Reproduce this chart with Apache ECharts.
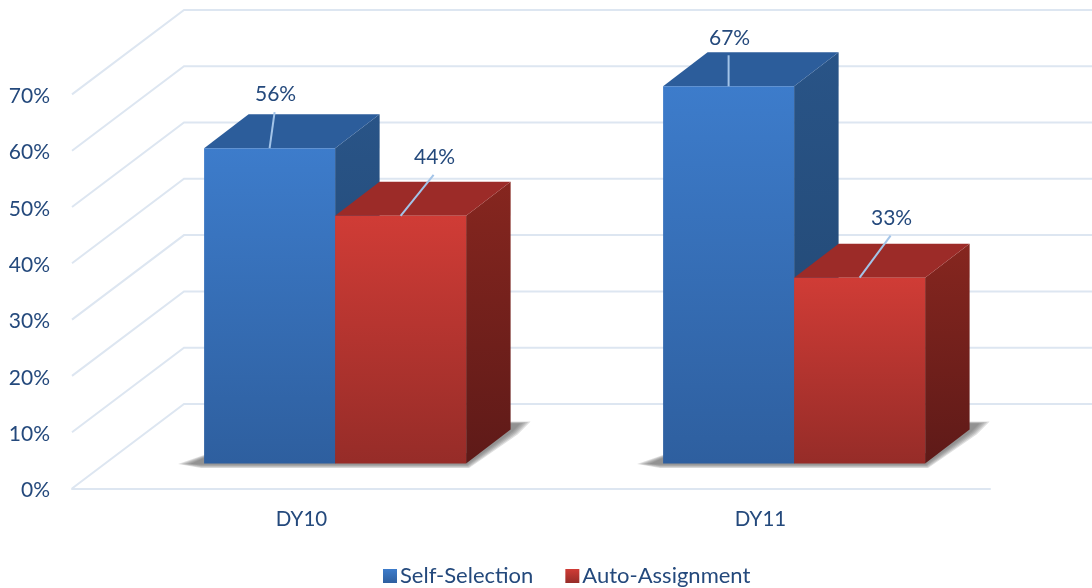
<!DOCTYPE html>
<html>
<head>
<meta charset="utf-8">
<style>html,body{margin:0;padding:0;background:#fff}#c{width:1092px;height:588px}</style>
<script src="https://cdn.jsdelivr.net/npm/echarts@6/dist/echarts.min.js"></script>
</head>
<body>
<div id="c"></div>
<script>
const categories = ['DY10', 'DY11'];
const selfSelection = [56, 67];
const autoAssignment = [44, 33];
const gridTicks = [0, 10, 20, 30, 40, 50, 60, 70];

// Perspective layout (separate from the data)
const WALL_DX = 112, WALL_DY = -84.5;      // wall depth offset
const BAR_SHIFT_X = 33.6, BAR_SHIFT_Y = -25; // bars stand part-way back on the floor
const DEPTH_X = 44.5, DEPTH_Y = -34;        // bar's own depth
const BAR_FRACTION = 131 / 459;             // bar width as share of a category band
const FONT = 'Lato, Carlito, Calibri, sans-serif';
const TEXT = '#24497c', GRID = '#dde6f1', LEADER = '#a3c4e8';
const lg = (a, b) => new echarts.graphic.LinearGradient(0, 0, 0, 1, [{offset: 0, color: a}, {offset: 1, color: b}]);

const BLUE = {front: ['#3d7ccb', '#2e5f9f'], top: '#2c5d9b', side: ['#295487', '#214670']};
const RED = {front: ['#d03c36', '#962c28'], top: '#9c2b28', side: ['#86261f', '#5e1a18']};
// leader ends, relative to the centre of each bar's front-top edge
const blueLeaders = [[5, -36], [0, -31]];
const redLeaders = [[33, -41], [31, -42]];
const shadowLayers = [1, 0.75, 0.5, 0.25, 0];       // soft floor shadow, outermost first

function gridItem(params, api) {
  const p = api.coord([0, api.value(0)]);
  const x0 = params.coordSys.x, x1 = params.coordSys.x + params.coordSys.width;
  const pts = [[x0, p[1]], [x0 + WALL_DX, p[1] + WALL_DY], [x1 + WALL_DX + 2, p[1] + WALL_DY]];
  return {type: 'polyline', shape: {points: pts}, style: {fill: null, stroke: GRID, lineWidth: 2}, silent: true};
}

function barRenderer(side, palette, leaders) {
  return function (params, api) {
    const idx = api.value(0), val = api.value(1);
    const w = api.size([1, 0])[0] * BAR_FRACTION;
    const c = api.coord([idx, val]), b = api.coord([idx, 0]);
    const cx = c[0] + BAR_SHIFT_X;
    const xl = side === 0 ? cx - w : cx, xr = xl + w;
    const yt = c[1] + BAR_SHIFT_Y, yb = b[1] + BAR_SHIFT_Y;
    const xm = xl + w / 2;
    const L = leaders[idx];
    return {
      type: 'group',
      children: [
        {type: 'polygon', shape: {points: [[xr, yt], [xr + DEPTH_X, yt + DEPTH_Y], [xr + DEPTH_X, yb + DEPTH_Y], [xr, yb]]},
          style: {fill: lg(palette.side[0], palette.side[1])}},
        {type: 'polygon', shape: {points: [[xl, yt], [xl + DEPTH_X, yt + DEPTH_Y], [xr + DEPTH_X, yt + DEPTH_Y], [xr, yt]]},
          style: {fill: palette.top}},
        {type: 'rect', shape: {x: xl, y: yt, width: w, height: yb - yt},
          style: {fill: lg(palette.front[0], palette.front[1])}},
        {type: 'line', shape: {x1: xm, y1: yt, x2: xm + L[0], y2: yt + L[1]},
          style: {stroke: LEADER, lineWidth: 2}},
        {type: 'text', x: xm + L[0] + 1, y: yt + L[1] - 7,
          style: {text: val + '%', fill: TEXT, font: '21px ' + FONT, textAlign: 'center', textVerticalAlign: 'bottom'}, z2: 5}
      ]
    };
  };
}

function shadowItem(params, api) {
  const idx = api.value(0);
  const w = api.size([1, 0])[0] * BAR_FRACTION;
  const b = api.coord([idx, 0]);
  const cx = b[0] + BAR_SHIFT_X, y = b[1] + BAR_SHIFT_Y;
  const xl = cx - w, xr = cx + w;
  return {
    type: 'group',
    silent: true,
    children: shadowLayers.map(t => ({
      type: 'polygon',
      shape: {points: [[xl - 14 - 12 * t, y + 0.5], [xl + 10, y - 10 - 2 * t], [xr, y - 10], [xr + DEPTH_X, y + DEPTH_Y - 6 - 2 * t],
        [xr + DEPTH_X + 10 + 10 * t, y + DEPTH_Y - 6 - 2 * t], [xr + DEPTH_X + 2 + 5 * t, y + DEPTH_Y + 2 + 3 * t], [xr + 1 + 2 * t, y + 1 + 3.5 * t], [xl - 3, y + 1 + 3.5 * t]]},
      style: {fill: 'rgba(95,95,95,0.2)'}
    }))
  };
}

const chart = echarts.init(document.getElementById('c'), null, {renderer: 'canvas'});
chart.setOption({
  animation: false,
  backgroundColor: '#ffffff',
  textStyle: {fontFamily: FONT},
  grid: {left: 72, right: 102, top: 94.4, bottom: 99.5},
  legend: {
    show: true, left: 383, top: 565, padding: 0, itemWidth: 14, itemHeight: 14, itemGap: 32,
    icon: 'rect', data: ['Self-Selection', 'Auto-Assignment'],
    textStyle: {color: TEXT, fontSize: 22, fontFamily: FONT, padding: [0, 0, 0, -2]}
  },
  xAxis: {
    type: 'category', data: categories, boundaryGap: true,
    axisLine: {show: true, lineStyle: {color: GRID, width: 2}},
    axisTick: {show: false},
    axisLabel: {color: TEXT, fontSize: 20.5, margin: 20, fontFamily: FONT},
    splitLine: {show: false}
  },
  yAxis: {
    type: 'value', min: 0, max: 70, interval: 10,
    axisLine: {show: false}, axisTick: {show: false}, splitLine: {show: false},
    axisLabel: {
      color: TEXT, fontSize: 21, margin: 22, fontFamily: FONT, formatter: '{p|{value}%}',
      rich: {p: {color: TEXT, fontSize: 21, fontFamily: FONT, padding: [4, 0, 0, 0]}}
    }
  },
  series: [
    {type: 'custom', name: 'walls', renderItem: gridItem, data: gridTicks.map(t => [t]), encode: {y: 0}, silent: true, z: 1},
    {type: 'custom', name: 'floorShadow', renderItem: shadowItem, data: categories.map((c, i) => [i]), encode: {x: 0}, silent: true, z: 2},
    {type: 'custom', name: 'Self-Selection', renderItem: barRenderer(0, BLUE, blueLeaders),
      data: selfSelection.map((v, i) => [i, v]), encode: {x: 0, y: 1}, z: 3,
      itemStyle: {color: lg(BLUE.front[0], BLUE.front[1])}},
    {type: 'custom', name: 'Auto-Assignment', renderItem: barRenderer(1, RED, redLeaders),
      data: autoAssignment.map((v, i) => [i, v]), encode: {x: 0, y: 1}, z: 4,
      itemStyle: {color: lg(RED.front[0], RED.front[1])}}
  ]
});
</script>
</body>
</html>
